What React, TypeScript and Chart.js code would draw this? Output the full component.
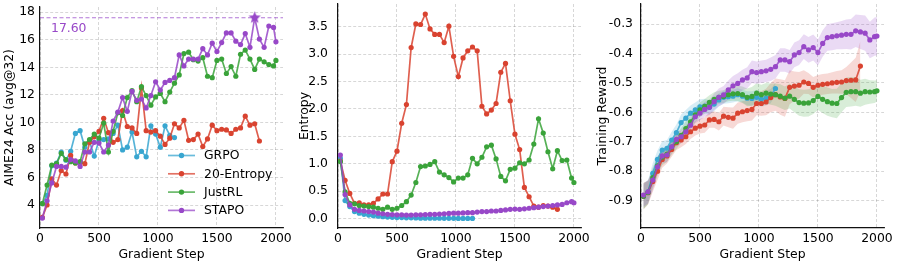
import React, { useEffect, useRef } from 'react';
import { Chart, registerables } from 'chart.js';

Chart.register(...registerables);

const FONT = "'DejaVu Sans', 'Liberation Sans', sans-serif";
const FONT_SIZE = 12.4;
const TEXT_COLOR = '#000000';
const AXIS_COLOR = '#111111';
const GRID_COLOR = 'rgba(0,0,0,0.2)';

// ---------- data ----------
const STEPS = [
  20, 60, 100, 140, 180, 220, 260, 300, 340, 380,
  420, 460, 500, 540, 580, 620, 660, 700, 740, 780,
  820, 860, 900, 940, 980, 1020, 1060, 1100, 1140, 1180,
  1220, 1260, 1300, 1340, 1380, 1420, 1460, 1500, 1540, 1580,
  1620, 1660, 1700, 1740, 1780, 1820, 1860, 1900, 1940, 1980,
  2000,
];

const SERIES_NAMES = ['GRPO', '20-Entropy', 'JustRL', 'STAPO'];
type RGB = [number, number, number];
const SERIES_COLORS: RGB[] = [
  [56, 166, 208],
  [217, 67, 48],
  [58, 163, 58],
  [152, 72, 200],
];

// Panel 1: AIME24 Acc (avg@32)
const ACC_GRPO = [
  4.1, 4.7, 6.85, 7.05, 7.85, 7.25, 7.9, 9.2, 9.4, 8.2,
  8.6, 7.55, 8.7, 8.75, 8.8, 9.2, 9.8, 8.0, 8.2, 9.3,
  7.5, 7.9, 7.5, 9.75, 9.15, 8.2, 9.75, 9.05, 8.9,
];
const ACC_ENTROPY20 = [
  3.1, 4.0, 5.9, 5.45, 6.5, 6.25, 7.6, 7.05, 7.1, 7.0,
  8.55, 8.95, 9.35, 10.3, 9.25, 8.55, 8.75, 10.85, 9.7, 9.6,
  9.2, 12.5, 9.4, 9.3, 9.4, 9.0, 8.4, 8.85, 9.9, 9.6,
  10.15, 8.7, 8.75, 9.15, 8.25, 8.8, 9.8, 9.4, 9.5, 9.45,
  9.2, 9.5, 9.6, 10.45, 9.8, 9.9, 8.65,
];
const ACC_JUSTRL = [
  4.1, 5.45, 6.9, 7.0, 7.75, 7.3, 7.15, 7.05, 7.15, 8.45,
  8.75, 9.15, 8.85, 9.95, 7.85, 9.35, 10.7, 10.5, 11.8, 12.3,
  11.5, 12.6, 11.95, 11.25, 11.85, 12.1, 11.5, 12.2, 12.85, 13.45,
  15.0, 15.1, 14.55, 14.45, 14.7, 13.35, 13.25, 14.5, 14.6, 13.55,
  14.05, 13.35, 14.95, 15.25, 14.6, 13.85, 14.6, 14.4, 14.2, 14.1,
  14.5,
];
const ACC_STAPO = [
  3.05, 4.3, 5.6, 6.8, 6.8, 6.75, 7.3, 7.2, 6.8, 7.85,
  7.85, 8.55, 8.5, 7.85, 8.35, 10.1, 10.75, 11.8, 10.8, 12.25,
  11.6, 11.7, 11.05, 11.95, 12.95, 12.35, 12.9, 13.05, 13.25, 14.9,
  14.1, 14.6, 14.6, 14.6, 15.35, 14.9, 15.75, 15.15, 15.8, 16.5,
  16.5, 15.9, 15.65, 16.45, 15.45, 17.6, 16.05, 15.45, 17.0, 16.9,
  15.85,
];
const BEST_STEP = 1820;
const BEST_ACC = 17.6;

// Panel 2: Entropy
const ENT_GRPO = [
  1.10, 0.33, 0.22, 0.13, 0.10, 0.08, 0.065, 0.055, 0.045, 0.035,
  0.03, 0.025, 0.02, 0.02, 0.015, 0.015, 0.012, 0.01, 0.01, 0.01,
  0.008, 0.008, 0.007, 0.006, 0.006, 0.005, 0.005, 0.005, 0.004,
];
const ENT_ENTROPY20 = [
  1.05, 0.70, 0.46, 0.28, 0.29, 0.25, 0.25, 0.28, 0.36, 0.45,
  0.45, 1.04, 1.23, 1.74, 2.08, 3.12, 3.55, 3.54, 3.73, 3.46,
  3.36, 3.36, 3.21, 3.51, 2.96, 2.59, 2.93, 3.06, 3.13, 3.06,
  2.05, 1.91, 1.98, 2.10, 2.67, 2.83, 2.15, 1.54, 1.26, 0.57,
  0.40, 0.23, 0.21, 0.24, 0.23, 0.21, 0.17,
];
const ENT_JUSTRL = [
  1.04, 0.49, 0.28, 0.27, 0.24, 0.23, 0.22, 0.21, 0.19, 0.17,
  0.21, 0.17, 0.19, 0.24, 0.31, 0.43, 0.66, 0.95, 0.96, 0.99,
  1.04, 0.85, 0.80, 0.75, 0.67, 0.74, 0.74, 0.80, 1.10, 1.00,
  1.12, 1.31, 1.34, 1.09, 0.77, 0.69, 0.90, 0.92, 1.02, 1.00,
  1.07, 1.36, 1.82, 1.56, 1.22, 0.91, 1.24, 1.06, 1.07, 0.74,
  0.66,
];
const ENT_STAPO = [
  1.16, 0.44, 0.25, 0.17, 0.15, 0.14, 0.13, 0.12, 0.10, 0.09,
  0.08, 0.075, 0.07, 0.07, 0.065, 0.065, 0.07, 0.07, 0.075, 0.08,
  0.08, 0.085, 0.09, 0.095, 0.10, 0.10, 0.105, 0.11, 0.11, 0.12,
  0.13, 0.13, 0.14, 0.14, 0.15, 0.16, 0.17, 0.175, 0.17, 0.18,
  0.19, 0.20, 0.21, 0.22, 0.23, 0.24, 0.25, 0.26, 0.29, 0.31,
  0.29,
];

// Panel 3: Training Reward (mean and spread)
const REW_GRPO = [
  -0.886, -0.870, -0.807, -0.760, -0.728, -0.722, -0.694, -0.669, -0.635, -0.620,
  -0.603, -0.592, -0.581, -0.579, -0.583, -0.572, -0.558, -0.549, -0.547, -0.545,
  -0.540, -0.545, -0.552, -0.553, -0.549, -0.556, -0.552, -0.545, -0.519,
];
const REW_ENTROPY20 = [
  -0.885, -0.873, -0.835, -0.800, -0.760, -0.748, -0.726, -0.703, -0.694, -0.683,
  -0.666, -0.654, -0.647, -0.643, -0.626, -0.624, -0.632, -0.613, -0.617, -0.620,
  -0.603, -0.598, -0.594, -0.590, -0.570, -0.570, -0.565, -0.550, -0.540, -0.548,
  -0.553, -0.515, -0.511, -0.508, -0.497, -0.502, -0.515, -0.508, -0.505, -0.503,
  -0.500, -0.498, -0.497, -0.492, -0.491, -0.490, -0.443,
];
const REW_JUSTRL = [
  -0.885, -0.872, -0.822, -0.782, -0.752, -0.742, -0.718, -0.700, -0.678, -0.655,
  -0.632, -0.609, -0.592, -0.580, -0.566, -0.556, -0.549, -0.546, -0.540, -0.537,
  -0.536, -0.540, -0.549, -0.546, -0.535, -0.540, -0.535, -0.538, -0.540, -0.545,
  -0.552, -0.545, -0.556, -0.567, -0.569, -0.568, -0.560, -0.546, -0.556, -0.564,
  -0.569, -0.570, -0.550, -0.532, -0.530, -0.530, -0.535, -0.530, -0.531, -0.530,
  -0.527,
];
const REW_STAPO = [
  -0.881, -0.870, -0.830, -0.785, -0.748, -0.745, -0.717, -0.692, -0.683, -0.666,
  -0.644, -0.615, -0.603, -0.590, -0.583, -0.564, -0.549, -0.541, -0.524, -0.510,
  -0.502, -0.490, -0.483, -0.462, -0.465, -0.462, -0.459, -0.454, -0.445, -0.422,
  -0.422, -0.428, -0.405, -0.397, -0.377, -0.388, -0.380, -0.397, -0.366, -0.346,
  -0.343, -0.340, -0.338, -0.335, -0.335, -0.323, -0.327, -0.331, -0.354, -0.343,
  -0.341,
];
const REW_STD_GRPO = [
  0.040, 0.040, 0.035, 0.030, 0.030, 0.028, 0.028, 0.028, 0.028, 0.028,
  0.026, 0.025, 0.025, 0.025, 0.024, 0.024, 0.022, 0.022, 0.022, 0.022,
  0.022, 0.022, 0.024, 0.025, 0.025, 0.025, 0.025, 0.024, 0.020,
];
const REW_STD_ENTROPY20 = [
  0.045, 0.040, 0.035, 0.030, 0.028, 0.026, 0.025, 0.025, 0.025, 0.025,
  0.025, 0.025, 0.025, 0.026, 0.026, 0.028, 0.030, 0.032, 0.034, 0.036,
  0.036, 0.036, 0.036, 0.038, 0.040, 0.042, 0.045, 0.050, 0.055, 0.060,
  0.062, 0.058, 0.050, 0.045, 0.040, 0.036, 0.035, 0.035, 0.035, 0.035,
  0.036, 0.038, 0.040, 0.046, 0.060, 0.075, 0.085,
];
const REW_STD_JUSTRL = [
  0.045, 0.040, 0.035, 0.030, 0.028, 0.026, 0.025, 0.025, 0.025, 0.025,
  0.025, 0.025, 0.025, 0.025, 0.024, 0.024, 0.022, 0.022, 0.022, 0.024,
  0.026, 0.028, 0.030, 0.032, 0.034, 0.034, 0.035, 0.036, 0.038, 0.040,
  0.040, 0.042, 0.044, 0.045, 0.046, 0.046, 0.046, 0.046, 0.046, 0.048,
  0.048, 0.050, 0.050, 0.050, 0.050, 0.048, 0.046, 0.044, 0.040, 0.038,
  0.036,
];
const REW_STD_STAPO = [
  0.040, 0.040, 0.035, 0.030, 0.025, 0.025, 0.022, 0.022, 0.022, 0.022,
  0.022, 0.022, 0.024, 0.025, 0.026, 0.028, 0.030, 0.030, 0.032, 0.033,
  0.035, 0.035, 0.036, 0.038, 0.038, 0.038, 0.038, 0.040, 0.040, 0.040,
  0.040, 0.040, 0.042, 0.042, 0.042, 0.044, 0.044, 0.044, 0.045, 0.045,
  0.046, 0.046, 0.048, 0.050, 0.052, 0.055, 0.058, 0.060, 0.062, 0.065,
  0.065,
];

const X_TICKS = [0, 500, 1000, 1500, 2000];
const ACC_TICKS = [4, 6, 8, 10, 12, 14, 16, 18];
const ENT_TICKS = [0, 0.5, 1, 1.5, 2, 2.5, 3, 3.5];
const REW_TICKS = [-0.9, -0.8, -0.7, -0.6, -0.5, -0.4, -0.3];

// ---------- helpers ----------
const rgba = (c: RGB, a: number) => `rgba(${c[0]},${c[1]},${c[2]},${a})`;
const toPoints = (values: number[]) => values.map((v, i) => ({ x: STEPS[i], y: v }));

function lineDataset(label: string, values: number[], color: RGB) {
  return {
    label,
    data: toPoints(values),
    borderColor: rgba(color, 0.85),
    backgroundColor: rgba(color, 1),
    pointBackgroundColor: rgba(color, 1),
    pointBorderWidth: 0,
    pointRadius: 2.6,
    borderWidth: 1.7,
    fill: false,
    tension: 0,
  };
}

function bandDatasets(label: string, values: number[], spread: number[], color: RGB) {
  return [
    {
      label: label + ' upper',
      data: toPoints(values.map((v, i) => v + spread[i])),
      borderWidth: 0,
      borderColor: 'rgba(0,0,0,0)',
      pointRadius: 0,
      backgroundColor: rgba(color, 0.2),
      fill: '+1',
      tension: 0,
    },
    {
      label: label + ' lower',
      data: toPoints(values.map((v, i) => v - spread[i])),
      borderWidth: 0,
      borderColor: 'rgba(0,0,0,0)',
      pointRadius: 0,
      fill: false,
      tension: 0,
    },
  ];
}

function makeStar(color: string, r: number) {
  const s = Math.ceil(r * 2 + 2);
  const c = document.createElement('canvas');
  c.width = s;
  c.height = s;
  const ctx = c.getContext('2d')!;
  ctx.fillStyle = color;
  ctx.beginPath();
  for (let i = 0; i < 10; i++) {
    const rad = i % 2 === 0 ? r : r * 0.42;
    const a = -Math.PI / 2 + (i * Math.PI) / 5;
    ctx.lineTo(s / 2 + rad * Math.cos(a), s / 2 + rad * Math.sin(a));
  }
  ctx.closePath();
  ctx.fill();
  return c;
}

interface AxisOpts {
  yMin: number;
  yMax: number;
  yTicks: number[];
  yTitle: string;
  fmt: (v: number) => string;
  yWidth: number;
  tickPad: number;
  titlePad: number;
  padRight: number;
}

function makeOptions(o: AxisOpts): any {
  const font = { family: FONT, size: FONT_SIZE };
  return {
    responsive: false,
    animation: false,
    devicePixelRatio: 1,
    layout: { padding: { left: 0, right: o.padRight, top: 4, bottom: 0 } },
    plugins: {
      legend: { display: false },
      tooltip: { enabled: false },
      filler: { drawTime: 'beforeDatasetsDraw' },
    },
    scales: {
      x: {
        type: 'linear',
        min: 0,
        max: 2060,
        afterBuildTicks: (s: any) => {
          s.ticks = X_TICKS.map((v) => ({ value: v }));
        },
        afterFit: (s: any) => {
          s.height = 37;
          s.paddingLeft = 0;
          s.paddingRight = 0;
        },
        ticks: {
          font,
          color: TEXT_COLOR,
          padding: 3,
          maxRotation: 0,
          autoSkip: false,
          callback: (v: any) => String(v),
        },
        grid: { color: GRID_COLOR, lineWidth: 0.8, drawTicks: false },
        border: { display: true, color: AXIS_COLOR, width: 1.2, dash: [3, 2] },
        title: {
          display: true,
          text: 'Gradient Step',
          font,
          color: TEXT_COLOR,
          padding: { top: 0, bottom: 2.5 },
        },
      },
      y: {
        type: 'linear',
        min: o.yMin,
        max: o.yMax,
        afterBuildTicks: (s: any) => {
          s.ticks = o.yTicks.map((v) => ({ value: v }));
        },
        afterFit: (s: any) => {
          s.width = o.yWidth;
          s.paddingTop = 0;
          s.paddingBottom = 0;
        },
        ticks: {
          font,
          color: TEXT_COLOR,
          padding: o.tickPad,
          autoSkip: false,
          callback: (v: any) => o.fmt(Number(v)),
        },
        grid: { color: GRID_COLOR, lineWidth: 0.8, drawTicks: false },
        border: { display: true, color: AXIS_COLOR, width: 1.2, dash: [3, 2] },
        title: {
          display: true,
          text: o.yTitle,
          font,
          color: TEXT_COLOR,
          padding: { top: o.titlePad, bottom: 0 },
        },
      },
    },
  };
}

// ---------- plugins ----------
const bestLinePlugin = {
  id: 'bestLine',
  beforeDatasetsDraw(chart: any) {
    const { ctx, chartArea, scales } = chart;
    const y = scales.y.getPixelForValue(BEST_ACC);
    const c = SERIES_COLORS[3];
    ctx.save();
    ctx.strokeStyle = rgba(c, 0.75);
    ctx.lineWidth = 1.2;
    ctx.setLineDash([4, 2.5]);
    ctx.beginPath();
    ctx.moveTo(chartArea.left, y);
    ctx.lineTo(chartArea.right, y);
    ctx.stroke();
    ctx.setLineDash([]);
    ctx.fillStyle = rgba(c, 1);
    ctx.font = `${FONT_SIZE}px ${FONT}`;
    ctx.textBaseline = 'middle';
    ctx.textAlign = 'left';
    ctx.fillText(BEST_ACC.toFixed(2), chartArea.left + 11, y + 11);
    ctx.restore();
  },
};

const insideLegendPlugin = {
  id: 'insideLegend',
  afterDatasetsDraw(chart: any) {
    const { ctx, chartArea } = chart;
    const x0 = chartArea.left + 128;
    const x1 = chartArea.left + 155;
    const tx = chartArea.left + 164;
    ctx.save();
    SERIES_NAMES.forEach((name, i) => {
      const y = chartArea.bottom - 72.5 + i * 18.3;
      const c = SERIES_COLORS[i];
      ctx.strokeStyle = rgba(c, 0.75);
      ctx.lineWidth = 1.7;
      ctx.beginPath();
      ctx.moveTo(x0, y);
      ctx.lineTo(x1, y);
      ctx.stroke();
      ctx.fillStyle = rgba(c, 1);
      ctx.beginPath();
      ctx.arc((x0 + x1) / 2, y, 2.7, 0, Math.PI * 2);
      ctx.fill();
      ctx.fillStyle = TEXT_COLOR;
      ctx.font = `${FONT_SIZE}px ${FONT}`;
      ctx.textBaseline = 'middle';
      ctx.textAlign = 'left';
      ctx.fillText(name, tx, y + 0.5);
    });
    ctx.restore();
  },
};

// ---------- configs ----------
function accConfig(): any {
  const [cG, cE, cJ, cS] = SERIES_COLORS;
  return {
    type: 'line',
    data: {
      datasets: [
        {
          label: 'best',
          data: [{ x: BEST_STEP, y: BEST_ACC }],
          pointStyle: makeStar(rgba(cS, 1), 6.5),
          pointRadius: 7,
          showLine: false,
          borderWidth: 0,
        },
        lineDataset(SERIES_NAMES[3], ACC_STAPO, cS),
        lineDataset(SERIES_NAMES[2], ACC_JUSTRL, cJ),
        lineDataset(SERIES_NAMES[1], ACC_ENTROPY20, cE),
        lineDataset(SERIES_NAMES[0], ACC_GRPO, cG),
      ],
    },
    options: makeOptions({
      yMin: 2.33,
      yMax: 18.38,
      yTicks: ACC_TICKS,
      yTitle: 'AIME24 Acc (avg@32)',
      fmt: (v) => String(Math.round(v)),
      yWidth: 40,
      tickPad: 5,
      titlePad: 2,
      padRight: 12,
    }),
    plugins: [bestLinePlugin, insideLegendPlugin],
  };
}

function entConfig(): any {
  const [cG, cE, cJ, cS] = SERIES_COLORS;
  return {
    type: 'line',
    data: {
      datasets: [
        lineDataset(SERIES_NAMES[3], ENT_STAPO, cS),
        lineDataset(SERIES_NAMES[2], ENT_JUSTRL, cJ),
        lineDataset(SERIES_NAMES[1], ENT_ENTROPY20, cE),
        lineDataset(SERIES_NAMES[0], ENT_GRPO, cG),
      ],
    },
    options: makeOptions({
      yMin: -0.17,
      yMax: 3.914,
      yTicks: ENT_TICKS,
      yTitle: 'Entropy',
      fmt: (v) => v.toFixed(1),
      yWidth: 43,
      tickPad: 10,
      titlePad: 2,
      padRight: 9,
    }),
  };
}

function rewConfig(): any {
  const [cG, cE, cJ, cS] = SERIES_COLORS;
  return {
    type: 'line',
    data: {
      datasets: [
        lineDataset(SERIES_NAMES[3], REW_STAPO, cS),
        lineDataset(SERIES_NAMES[2], REW_JUSTRL, cJ),
        lineDataset(SERIES_NAMES[1], REW_ENTROPY20, cE),
        lineDataset(SERIES_NAMES[0], REW_GRPO, cG),
        ...bandDatasets(SERIES_NAMES[3], REW_STAPO, REW_STD_STAPO, cS),
        ...bandDatasets(SERIES_NAMES[2], REW_JUSTRL, REW_STD_JUSTRL, cJ),
        ...bandDatasets(SERIES_NAMES[1], REW_ENTROPY20, REW_STD_ENTROPY20, cE),
        ...bandDatasets(SERIES_NAMES[0], REW_GRPO, REW_STD_GRPO, cG),
      ],
    },
    options: makeOptions({
      yMin: -0.993,
      yMax: -0.232,
      yTicks: REW_TICKS,
      yTitle: 'Training Reward',
      fmt: (v) => v.toFixed(1),
      yWidth: 46,
      tickPad: 8,
      titlePad: 0,
      padRight: 13,
    }),
  };
}

function Panel({ left, width, build }: { left: number; width: number; build: () => any }) {
  const ref = useRef<HTMLCanvasElement>(null);
  useEffect(() => {
    const chart = new Chart(ref.current as HTMLCanvasElement, build());
    return () => chart.destroy();
  }, []);
  return (
    <canvas
      ref={ref}
      width={width}
      height={265}
      style={{ position: 'absolute', left, top: 0, width, height: 265 }}
    />
  );
}

export default function App() {
  return (
    <div
      style={{
        position: 'absolute',
        left: 0,
        top: 0,
        width: 897,
        height: 265,
        background: '#ffffff',
        overflow: 'hidden',
      }}
    >
      <Panel left={0} width={295} build={accConfig} />
      <Panel left={295} width={295} build={entConfig} />
      <Panel left={595} width={302} build={rewConfig} />
    </div>
  );
}
